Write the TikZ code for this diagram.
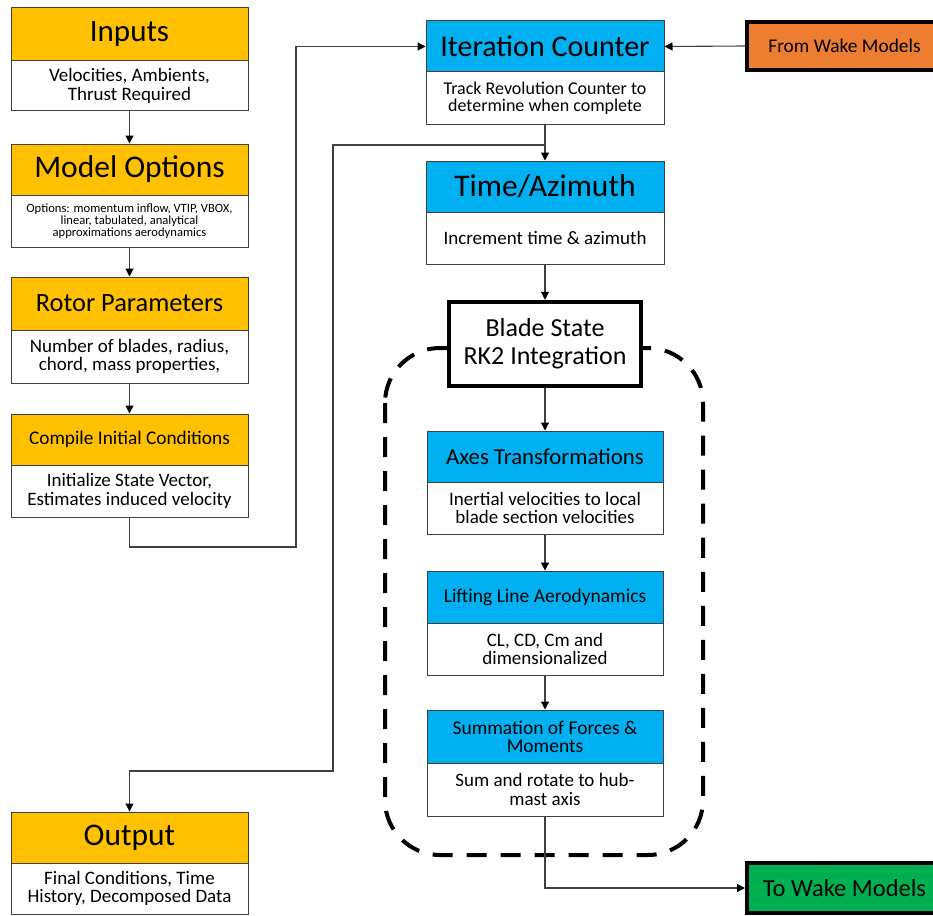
\documentclass[tikz,border=0pt]{standalone}
\usepackage{fontspec}
\setmainfont{Carlito}
\usetikzlibrary{arrows.meta}
\definecolor{gold}{HTML}{FFC000}
\definecolor{sky}{HTML}{00B0F0}
\definecolor{orng}{HTML}{ED7D31}
\definecolor{grn}{HTML}{00B050}
\definecolor{lineC}{HTML}{404040}
\newcommand{\fs}[2]{\fontsize{#1}{#2}\selectfont}
\tikzset{
  box/.style={draw=lineC, line width=1pt, inner sep=0pt, align=center, text=black},
  hdrL/.style={box, fill=gold, minimum width=237pt},
  bdyL/.style={box, fill=white, minimum width=237pt, font=\fs{19}{18.5}},
  hdrC/.style={box, fill=sky, minimum width=238pt},
  bdyC/.style={box, fill=white, minimum width=238pt, font=\fs{19}{18.5}},
  conn/.style={draw=lineC, line width=1.1pt},
  arr/.style={conn, -{Triangle[width=8pt,length=8pt,color=black]}},
}
\begin{document}
\begin{tikzpicture}[x=1pt,y=-1pt]
\useasboundingbox (0,0) rectangle (933,915);
\clip (0,0) rectangle (933,915);
% dashed group
\draw[line width=4pt, dash pattern=on 20pt off 14pt, rounded corners=55pt] (385,348) rectangle (703,855);
% left column
\node[hdrL, minimum height=53pt, font=\fs{31}{35}] (inh) at (129.5,34.5) {Inputs};
\node[bdyL, minimum height=50pt] (inb) at (129.5,86) {Velocities, Ambients,\\Thrust Required};
\node[hdrL, minimum height=51pt, font=\fs{31.5}{35}] (moh) at (129.5,169.5) {Model Options};
\node[bdyL, minimum height=52pt, font=\fs{12.6}{12}] (mob) at (129.5,221) {Options: momentum inflow, VTIP, VBOX,\\linear, tabulated, analytical\\approximations aerodynamics};
\node[hdrL, minimum height=53pt, font=\fs{26.4}{30}] (rph) at (129.5,303.5) {Rotor Parameters};
\node[bdyL, minimum height=53pt] (rpb) at (129.5,356.5) {Number of blades, radius,\\chord, mass properties,};
\node[hdrL, minimum height=51pt, font=\fs{19.3}{22}] (cih) at (129.5,439.5) {Compile Initial Conditions};
\node[bdyL, minimum height=52pt] (cib) at (129.5,491) {Initialize State Vector,\\Estimates induced velocity};
\node[hdrL, minimum height=51pt, font=\fs{31.5}{35}] (outh) at (129.5,837.5) {Output};
\node[bdyL, minimum height=51pt] (outb) at (129.5,888.5) {Final Conditions, Time\\History, Decomposed Data};
% centre column
\node[hdrC, minimum height=51pt, font=\fs{30}{34}] (ich) at (545,46.5) {Iteration Counter};
\node[bdyC, minimum height=52pt, font=\fs{18}{17.5}] (icb) at (545,98) {Track Revolution Counter to\\determine when complete};
\node[hdrC, minimum height=51pt, font=\fs{31.5}{35}] (tah) at (545,186.5) {Time/Azimuth};
\node[bdyC, minimum height=52pt] (tab) at (545,238) {Increment time \& azimuth};
\node[box, draw=black, fill=white, line width=4.5pt, minimum width=192pt, minimum height=84pt, font=\fs{26}{28}] (bs) at (545,344) {Blade State\\RK2 Integration};
\node[hdrC, minimum width=236pt, minimum height=51pt, font=\fs{22.8}{26}] (axh) at (545,456.5) {Axes Transformations};
\node[bdyC, minimum width=236pt, minimum height=52pt] (axb) at (545,508) {Inertial velocities to local\\blade section velocities};
\node[hdrC, minimum width=236pt, minimum height=52pt, font=\fs{19.5}{22}] (llh) at (545,597) {Lifting Line Aerodynamics};
\node[bdyC, minimum width=236pt, minimum height=52pt] (llb) at (545,649) {CL, CD, Cm and\\dimensionalized};
\node[hdrC, minimum width=236pt, minimum height=53pt, font=\fs{19.5}{18}] (smh) at (545,736.5) {Summation of Forces \&\\Moments};
\node[bdyC, minimum width=236pt, minimum height=53pt] (smb) at (545,789.5) {Sum and rotate to hub-\\mast axis};
% right boxes
\node[box, draw=black, fill=orng, line width=4pt, minimum width=198pt, minimum height=48pt, anchor=west, font=\fs{19.4}{22}] (fw) at (745,46) {\hspace*{-3pt}From Wake Models};
\node[box, draw=black, fill=grn, line width=4pt, minimum width=198pt, minimum height=50pt, anchor=west, font=\fs{24.5}{28}] (tw) at (745,888) {\hspace*{-3pt}To Wake Models};
% connectors
\draw[arr] (inb.south) -- (moh.north);
\draw[arr] (mob.south) -- (rph.north);
\draw[arr] (rpb.south) -- (cih.north);
\coordinate (c1) at (296,547);
\draw[arr] (cib.south) |- (c1) |- (ich.west);
\draw[arr] (fw.west) -- (ich.east);
\draw[arr] (icb.south) -- (tah.north);
\coordinate (j1) at (545,145);
\coordinate (c2) at (333,771);
\draw[arr] (j1) -| (c2) -| (outh.north);
\draw[arr] (tab.south) -- (bs.north);
\draw[arr] (bs.south) -- (axh.north);
\draw[arr] (axb.south) -- (llh.north);
\draw[arr] (llb.south) -- (smh.north);
\draw[arr] (smb.south) |- (tw.west);
\end{tikzpicture}
\end{document}
